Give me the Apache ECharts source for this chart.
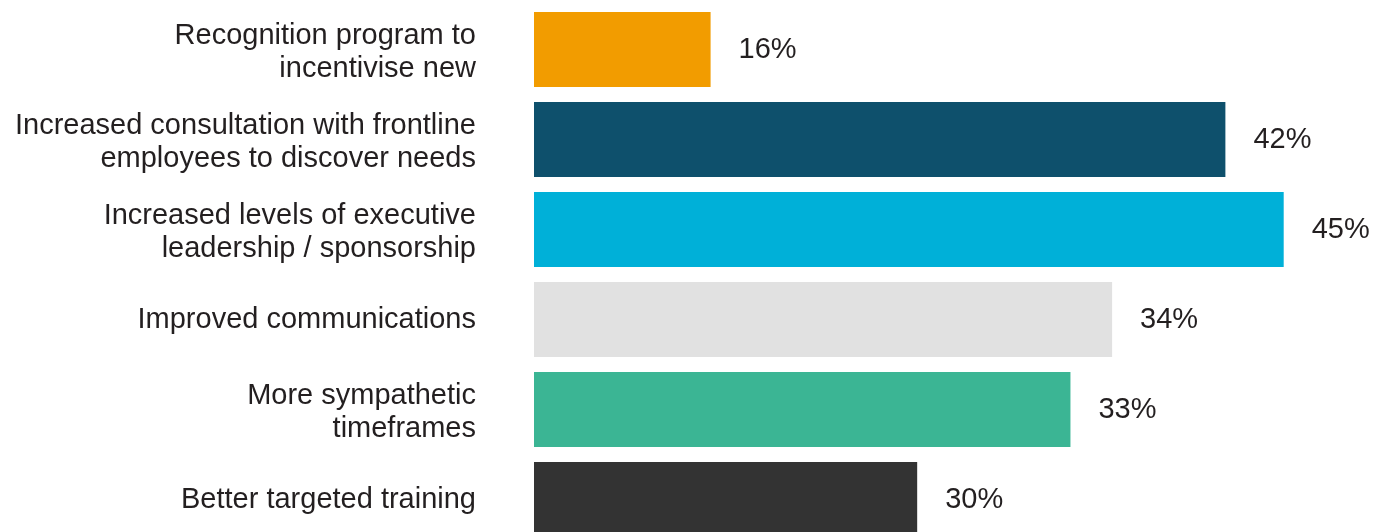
<!DOCTYPE html>
<html>
<head>
<meta charset="utf-8">
<script src="https://cdn.jsdelivr.net/npm/echarts@6/dist/echarts.min.js"></script>
<style>
html,body{margin:0;padding:0;background:#fff;}
#chart{width:1383px;height:532px;}
</style>
</head>
<body>
<div id="chart"></div>
<script>
// Categories (top to bottom)
var categories = [
  "Recognition program to\nincentivise new",
  "Increased consultation with frontline\nemployees to discover needs",
  "Increased levels of executive\nleadership / sponsorship",
  "Improved communications",
  "More sympathetic\ntimeframes",
  "Better targeted training"
];
// Bar lengths as drawn in the reference (axis units)
var barLengths = [10.6, 41.5, 45, 34.7, 32.2, 23.0];
// Printed percentage labels
var shareLabels = ["16%", "42%", "45%", "34%", "33%", "30%"];
var barColors = ["#F29C00", "#0E506C", "#00B0D8", "#E1E1E1", "#3BB594", "#333333"];

var chart = echarts.init(document.getElementById('chart'), null, {renderer: 'canvas'});
var textColor = '#231F20';
var font = '"Liberation Sans", Arial, Helvetica, sans-serif';
chart.setOption({
  animation: false,
  grid: {left: 534, width: 833, top: 4.5, height: 540, containLabel: false, outerBoundsMode: 'none'},
  xAxis: {
    type: 'value', min: 0, max: 50, show: false,
    splitLine: {show: false}
  },
  yAxis: {
    type: 'category', inverse: true, data: categories,
    axisLine: {show: false}, axisTick: {show: false},
    axisLabel: {
      margin: 58, fontSize: 29, lineHeight: 33, color: textColor,
      fontFamily: font, align: 'right',
      formatter: function (v) {
        var parts = v.split('\n');
        if (parts.length === 1) return '{s|' + v + '}';
        return '{f|' + parts[0] + '}\n{n|' + parts[1] + '}';
      },
      rich: {
        s: {fontSize: 29, lineHeight: 33, color: textColor, fontFamily: font},
        f: {fontSize: 29, lineHeight: 39, color: textColor, fontFamily: font},
        n: {fontSize: 29, lineHeight: 28, color: textColor, fontFamily: font}
      }
    }
  },
  series: [{
    type: 'bar',
    barCategoryGap: '16.67%',
    data: barLengths.map(function (v, i) {
      return {value: v, itemStyle: {color: barColors[i]}};
    }),
    label: {
      show: true, position: 'right', distance: 28,
      fontSize: 29, color: textColor, fontFamily: font,
      formatter: function (p) { return shareLabels[p.dataIndex]; }
    }
  }]
});
</script>
</body>
</html>
